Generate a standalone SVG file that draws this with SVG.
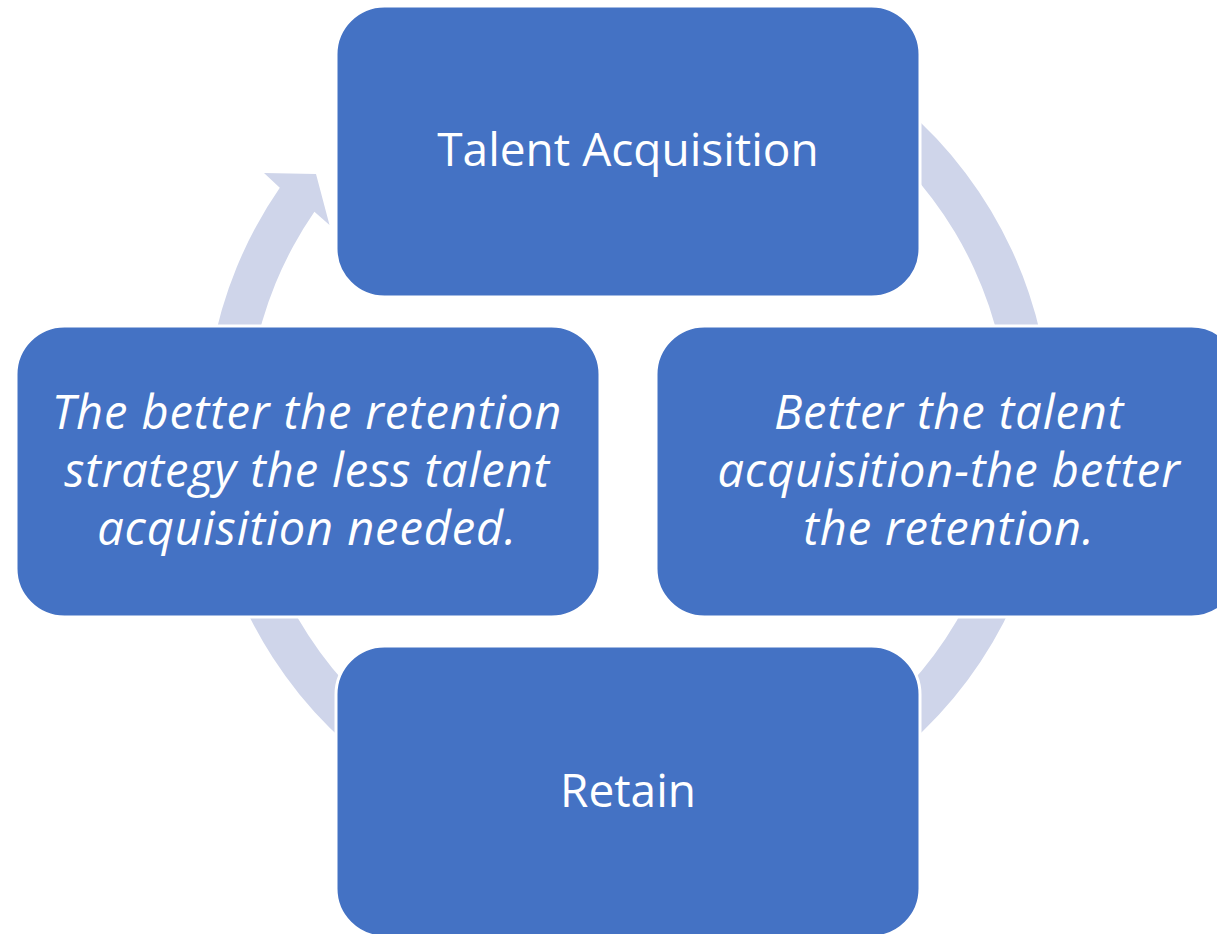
<svg xmlns="http://www.w3.org/2000/svg" width="1217" height="934" viewBox="0 0 1217 934">
  <style>
    .node { fill: #4472C4; stroke: #FFFFFF; stroke-width: 3; }
    .band { fill: #CFD5EA; stroke: none; }
    .lbl { fill: #FFFFFF; font-family: "Open Sans", "Noto Sans", "DejaVu Sans", sans-serif; font-size: 46px; text-anchor: middle; }
    .it { font-style: italic; font-size: 47px; letter-spacing: 0.9px; }
  </style>
  <rect width="1217" height="934" fill="#FFFFFF"/>
  <g id="connectors">
    <path class="band" d="M 701.5,11.4 A 423 423 0 1 1 279.8,187.8 L 264,173 L 316,174 L 329.5,225 L 314.4,211.7 A 381 381 0 1 0 694.2,52.8 Z"/>
  </g>
  <g id="node-talent-acquisition">
    <rect class="node" x="336" y="6" width="584" height="291" rx="48.5" ry="48.5"/>
    <text class="lbl" x="628" y="166">Talent Acquisition</text>
  </g>
  <g id="node-better-acquisition">
    <rect class="node" x="656" y="326" width="584" height="291" rx="48.5" ry="48.5"/>
    <text class="lbl it" x="949" y="428.5">Better the talent</text>
    <text class="lbl it" x="949" y="486.5">acquisition-the better</text>
    <text class="lbl it" x="949" y="544.5">the retention.</text>
  </g>
  <g id="node-retain">
    <rect class="node" x="336" y="646" width="584" height="291" rx="48.5" ry="48.5"/>
    <text class="lbl" x="628" y="807">Retain</text>
  </g>
  <g id="node-better-retention">
    <rect class="node" x="16" y="326" width="584" height="291" rx="48.5" ry="48.5"/>
    <text class="lbl it" x="307" y="428.5">The better the retention</text>
    <text class="lbl it" x="307" y="486.5">strategy the less talent</text>
    <text class="lbl it" x="307" y="544.5">acquisition needed.</text>
  </g>
</svg>
